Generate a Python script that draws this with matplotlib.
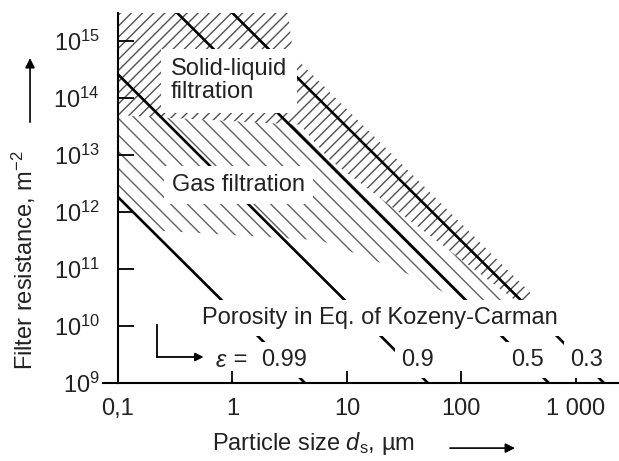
import matplotlib.pyplot as plt
from matplotlib.ticker import NullLocator

# Kozeny-Carman lines, given by their two end points (particle size in um, resistance in 1/m^2)
porosity = ['0.99', '0.9', '0.5', '0.3']
d_start = [0.1, 0.1, 0.33, 1.0]
r_start = [1.83e12, 2.6e14, 3.1e15, 3.1e15]
d_end = [4.3, 51, 580, 1760]
r_end = [1e9, 1e9, 1e9, 1e9]

# where the porosity values sit along the bottom
label_d = [2.82, 41.7, 381, 1247]
label_r = 2.5e9

# hatched regions
liquid_d = [0.1, 3.05, 3.37, 3.73, 438, 337, 7.1, 3.89, 0.1]
liquid_r = [3.1e15, 3.1e15, 6.4e14, 4.6e14, 3.2e10, 2.3e10, 8.2e12, 3.4e13, 5.0e13]
gas_d = [0.1, 3.89, 7.1, 337, 118.6, 29.0, 5.81, 0.19, 0.1]
gas_r = [5.0e13, 3.4e13, 8.2e12, 2.3e10, 2.3e10, 9.6e10, 3.2e11, 4.8e11, 1.83e12]

xticks = [0.1, 1, 10, 100, 1000]
xticklabels = ['0,1', '1', '10', '100', '1 000']
yexp = [9, 10, 11, 12, 13, 14, 15]

fam, fs = 'Liberation Sans', 17

plt.rcParams['font.family'] = [fam, 'DejaVu Sans']
plt.rcParams['mathtext.fontset'] = 'custom'
plt.rcParams['mathtext.rm'] = fam
plt.rcParams['mathtext.it'] = fam + ':italic'
plt.rcParams['text.color'] = '#222222'
plt.rcParams['hatch.linewidth'] = 1.0

tc = '#222222'

fig = plt.figure(figsize=(6.19, 4.61), dpi=100)
ax = fig.add_axes([0.1906, 0.1692, 0.8094, 0.8026])
ax.set_xscale('log')
ax.set_yscale('log')
ax.set_xlim(0.1, 2380)
ax.set_ylim(1e9, 3.1e15)

ax.fill(liquid_d, liquid_r, facecolor='none', edgecolor='#505050', lw=0, hatch='///', zorder=1)
ax.fill(gas_d, gas_r, facecolor='none', edgecolor='#606060', lw=0, hatch='\\\\', zorder=1)

for i in range(len(porosity)):
    ax.plot([d_start[i], d_end[i]], [r_start[i], r_end[i]], color='black', lw=1.9, zorder=2)

box = dict(facecolor='white', edgecolor='none', pad=5)
ax.text(0.29, 2.0e14, 'Solid-liquid\nfiltration', fontsize=fs, ha='left', va='center',
        linespacing=1.05, bbox=dict(facecolor='white', edgecolor='none', pad=7), zorder=3)
ax.text(1.13, 2.98e12, 'Gas filtration', fontsize=fs, ha='center', va='center',
        bbox=dict(facecolor='white', edgecolor='none', pad=6), zorder=3)
ax.text(19.4, 1.38e10, 'Porosity in Eq. of Kozeny-Carman', fontsize=fs, ha='center',
        va='center', bbox=box, zorder=3)
ax.text(0.878, label_r, 'ε', fontsize=fs, ha='right', va='center', style='italic', zorder=3)
ax.text(0.90, label_r, ' =', fontsize=fs, ha='left', va='center', zorder=3)
for i in range(len(porosity)):
    ax.text(label_d[i], label_r, porosity[i], fontsize=fs, ha='center', va='center',
            bbox=box, zorder=3)

# bent arrow pointing to the porosity values
ax.plot([0.219, 0.219], [1.04e10, 2.86e9], color='black', lw=1.3, zorder=3)
ax.annotate('', xy=(0.56, 2.86e9), xytext=(0.219, 2.86e9),
            arrowprops=dict(arrowstyle='-|>', color='black', lw=1.3, mutation_scale=12,
                            shrinkA=0, shrinkB=0), zorder=3)

ax.spines['top'].set_visible(False)
ax.spines['right'].set_visible(False)
for s in ['left', 'bottom']:
    ax.spines[s].set_linewidth(1.5)
ax.plot([-0.03, 0], [0, 0], transform=ax.transAxes, color='black', lw=1.5, clip_on=False)

ax.set_xticks(xticks)
ax.set_xticklabels(xticklabels)
ax.set_yticks([10.0 ** k for k in yexp])
ax.set_yticklabels([r'$10^{%d}$' % k for k in yexp])
ax.xaxis.set_minor_locator(NullLocator())
ax.yaxis.set_minor_locator(NullLocator())
ax.tick_params(axis='y', direction='in', length=11.5, width=1.3, pad=13, labelsize=fs,
               labelcolor=tc)
ax.tick_params(axis='x', direction='in', length=8.5, width=1.3, pad=11, labelsize=fs,
               labelcolor=tc)

# axis titles with long arrows
arrow = dict(arrowstyle='-|>', color='black', lw=1.2, mutation_scale=14, shrinkA=0, shrinkB=0)
fig.text(0.3425, 0.039, r'Particle size $d_{\mathrm{s}}$, µm', fontsize=fs, ha='left',
         va='center')
ax.annotate('', xy=(0.832, 0.028), xytext=(0.727, 0.028), xycoords='figure fraction',
            arrowprops=arrow, annotation_clip=False)
fig.text(0.039, 0.197, r'Filter resistance, m$^{-2}$', fontsize=fs, rotation=90,
         ha='center', va='bottom')
ax.annotate('', xy=(0.0485, 0.874), xytext=(0.0485, 0.735), xycoords='figure fraction',
            arrowprops=arrow, annotation_clip=False)

fig.savefig('out.png', dpi=100)
